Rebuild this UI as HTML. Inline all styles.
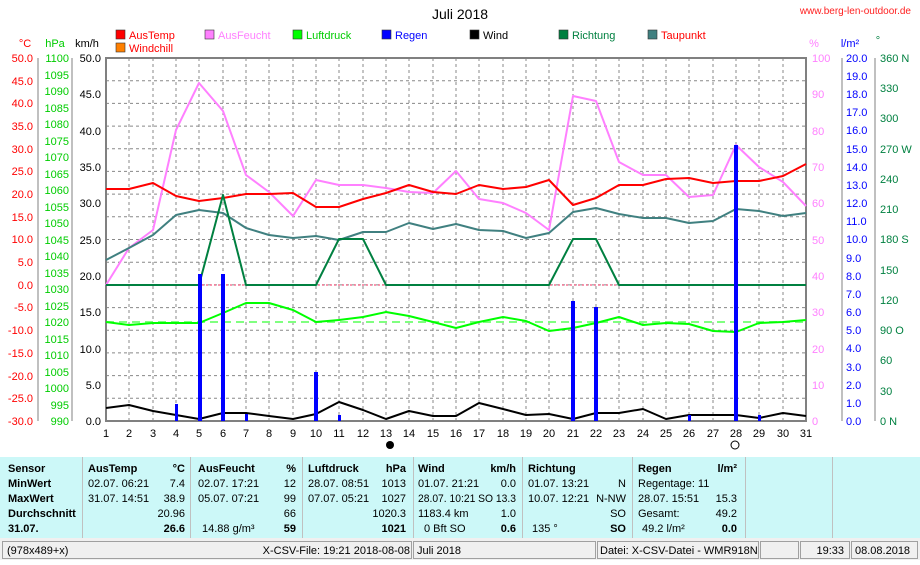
<!DOCTYPE html>
<html><head><meta charset="utf-8"><style>
body{margin:0;width:920px;height:560px;overflow:hidden;background:#fff;font-family:"Liberation Sans",sans-serif}
svg text{font-family:"Liberation Sans",sans-serif;font-size:11px}
</style></head><body>
<svg width="920" height="560" viewBox="0 0 920 560" xmlns="http://www.w3.org/2000/svg">
<rect width="920" height="560" fill="#fff"/>
<text x="460" y="19" text-anchor="middle" style="font-size:14px">Juli 2018</text>
<text x="911" y="14" text-anchor="end" fill="#ff2020" style="font-size:10px">www.berg-len-outdoor.de</text>
<g style="font-size:11px">
<rect x="116" y="30" width="9" height="9" fill="#f00" stroke="#333" stroke-width=".6"/><text x="129" y="39" fill="#f00">AusTemp</text>
<rect x="116" y="43" width="9" height="9" fill="#ff8000" stroke="#333" stroke-width=".6"/><text x="129" y="52" fill="#f00">Windchill</text>
<rect x="205" y="30" width="9" height="9" fill="#ff80ff" stroke="#333" stroke-width=".6"/><text x="218" y="39" fill="#ff80ff">AusFeucht</text>
<rect x="293" y="30" width="9" height="9" fill="#0f0" stroke="#333" stroke-width=".6"/><text x="306" y="39" fill="#0c0">Luftdruck</text>
<rect x="382" y="30" width="9" height="9" fill="#00f" stroke="#333" stroke-width=".6"/><text x="395" y="39" fill="#00f">Regen</text>
<rect x="470" y="30" width="9" height="9" fill="#000" stroke="#333" stroke-width=".6"/><text x="483" y="39" fill="#000">Wind</text>
<rect x="559" y="30" width="9" height="9" fill="#008040" stroke="#333" stroke-width=".6"/><text x="572" y="39" fill="#008040">Richtung</text>
<rect x="648" y="30" width="9" height="9" fill="#408080" stroke="#333" stroke-width=".6"/><text x="661" y="39" fill="#f00">Taupunkt</text>
</g>
<text x="25" y="47" fill="#f00" text-anchor="middle">°C</text>
<text x="55" y="47" fill="#0c0" text-anchor="middle">hPa</text>
<text x="87" y="47" text-anchor="middle">km/h</text>
<text x="814" y="47" fill="#ff80ff" text-anchor="middle">%</text>
<text x="850" y="47" fill="#00f" text-anchor="middle">l/m²</text>
<text x="878" y="44" fill="#008040" text-anchor="middle">°</text>
<g stroke="#888" stroke-width="1" stroke-dasharray="3,3">
<path d="M106 80.7H806M106 103.4H806M106 126.1H806M106 148.8H806M106 171.4H806M106 194.1H806M106 216.8H806M106 239.5H806M106 262.2H806M106 284.9H806M106 307.6H806M106 330.3H806M106 352.9H806M106 375.6H806M106 398.3H806"/>
<path d="M129 58V421M153 58V421M176 58V421M199 58V421M223 58V421M246 58V421M269 58V421M293 58V421M316 58V421M339 58V421M363 58V421M386 58V421M409 58V421M433 58V421M456 58V421M479 58V421M503 58V421M526 58V421M549 58V421M573 58V421M596 58V421M619 58V421M643 58V421M666 58V421M689 58V421M713 58V421M736 58V421M759 58V421M783 58V421"/>
</g>
<rect x="106" y="58" width="700" height="363" fill="none" stroke="#808080" stroke-width="2"/>
<g stroke="#808080"><line x1="38" y1="58" x2="38" y2="421"/><line x1="72" y1="58" x2="72" y2="421"/></g>
<g fill="#f00" text-anchor="end">
<text x="33" y="62">50.0</text><text x="33" y="85">45.0</text><text x="33" y="107">40.0</text><text x="33" y="130">35.0</text><text x="33" y="153">30.0</text><text x="33" y="175">25.0</text><text x="33" y="198">20.0</text><text x="33" y="221">15.0</text><text x="33" y="243">10.0</text><text x="33" y="266">5.0</text><text x="33" y="289">0.0</text><text x="33" y="311">-5.0</text><text x="33" y="334">-10.0</text><text x="33" y="357">-15.0</text><text x="33" y="380">-20.0</text><text x="33" y="402">-25.0</text><text x="33" y="425">-30.0</text>
</g>
<g fill="#0c0" text-anchor="end">
<text x="69" y="62">1100</text><text x="69" y="79">1095</text><text x="69" y="95">1090</text><text x="69" y="112">1085</text><text x="69" y="128">1080</text><text x="69" y="145">1075</text><text x="69" y="161">1070</text><text x="69" y="178">1065</text><text x="69" y="194">1060</text><text x="69" y="211">1055</text><text x="69" y="227">1050</text><text x="69" y="244">1045</text><text x="69" y="260">1040</text><text x="69" y="277">1035</text><text x="69" y="293">1030</text><text x="69" y="310">1025</text><text x="69" y="326">1020</text><text x="69" y="343">1015</text><text x="69" y="359">1010</text><text x="69" y="376">1005</text><text x="69" y="392">1000</text><text x="69" y="409">995</text><text x="69" y="425">990</text>
</g>
<g text-anchor="end">
<text x="101" y="62">50.0</text><text x="101" y="98">45.0</text><text x="101" y="135">40.0</text><text x="101" y="171">35.0</text><text x="101" y="207">30.0</text><text x="101" y="244">25.0</text><text x="101" y="280">20.0</text><text x="101" y="316">15.0</text><text x="101" y="353">10.0</text><text x="101" y="389">5.0</text><text x="101" y="425">0.0</text>
</g>
<g stroke="#808080"><line x1="842" y1="58" x2="842" y2="421"/><line x1="875" y1="58" x2="875" y2="421"/></g>
<g fill="#ff80ff"><text x="812" y="62">100</text><text x="812" y="98">90</text><text x="812" y="135">80</text><text x="812" y="171">70</text><text x="812" y="207">60</text><text x="812" y="244">50</text><text x="812" y="280">40</text><text x="812" y="316">30</text><text x="812" y="353">20</text><text x="812" y="389">10</text><text x="812" y="425">0</text></g>
<g fill="#00f"><text x="846" y="62">20.0</text><text x="846" y="80">19.0</text><text x="846" y="98">18.0</text><text x="846" y="116">17.0</text><text x="846" y="134">16.0</text><text x="846" y="153">15.0</text><text x="846" y="171">14.0</text><text x="846" y="189">13.0</text><text x="846" y="207">12.0</text><text x="846" y="225">11.0</text><text x="846" y="243">10.0</text><text x="846" y="262">9.0</text><text x="846" y="280">8.0</text><text x="846" y="298">7.0</text><text x="846" y="316">6.0</text><text x="846" y="334">5.0</text><text x="846" y="352">4.0</text><text x="846" y="371">3.0</text><text x="846" y="389">2.0</text><text x="846" y="407">1.0</text><text x="846" y="425">0.0</text></g>
<g fill="#008040"><text x="880" y="62">360 N</text><text x="880" y="92">330</text><text x="880" y="122">300</text><text x="880" y="153">270 W</text><text x="880" y="183">240</text><text x="880" y="213">210</text><text x="880" y="243">180 S</text><text x="880" y="274">150</text><text x="880" y="304">120</text><text x="880" y="334">90  O</text><text x="880" y="364">60</text><text x="880" y="395">30</text><text x="880" y="425">0   N</text></g>
<g text-anchor="middle">
<text x="106" y="437">1</text><text x="129" y="437">2</text><text x="153" y="437">3</text><text x="176" y="437">4</text><text x="199" y="437">5</text><text x="223" y="437">6</text><text x="246" y="437">7</text><text x="269" y="437">8</text><text x="293" y="437">9</text><text x="316" y="437">10</text><text x="339" y="437">11</text><text x="363" y="437">12</text><text x="386" y="437">13</text><text x="409" y="437">14</text><text x="433" y="437">15</text><text x="456" y="437">16</text><text x="479" y="437">17</text><text x="503" y="437">18</text><text x="526" y="437">19</text><text x="549" y="437">20</text><text x="573" y="437">21</text><text x="596" y="437">22</text><text x="619" y="437">23</text><text x="643" y="437">24</text><text x="666" y="437">25</text><text x="689" y="437">26</text><text x="713" y="437">27</text><text x="736" y="437">28</text><text x="759" y="437">29</text><text x="783" y="437">30</text><text x="806" y="437">31</text>
</g>
<circle cx="390" cy="445" r="4" fill="#000"/>
<circle cx="735" cy="445" r="4" fill="#fff" stroke="#000"/>
<line x1="106" y1="285" x2="806" y2="285" stroke="#f03060" stroke-dasharray="2,2"/>
<line x1="106" y1="322" x2="806" y2="322" stroke="#80ff80" stroke-width="2" stroke-dasharray="8,5"/>
<g fill="none" stroke-width="2" stroke-linejoin="round">
<polyline stroke="#ff80ff" points="106,285 129,248 153,230 176,130 199,83 223,111 246,175 269,192 293,216 316,180 339,185 363,185 386,188 409,192 433,193 456,171 479,199 503,203 526,213 549,230 573,96 596,101 619,162 643,175 666,175 689,197 713,195 736,145 759,167 783,182 806,206"/>
<polyline stroke="#408080" points="106,260 129,248 153,235 176,215 199,210 223,213 246,228 269,235 293,238 316,236 339,240 363,232 386,232 409,223 433,229 456,224 479,230 503,231 526,238 549,233 573,212 596,208 619,214 643,218 666,218 689,223 713,221 736,209 759,211 783,216 806,213"/>
<polyline stroke="#f00" points="106,189 129,189 153,183 176,196 199,201 223,198 246,194 269,194 293,193 316,207 339,207 363,199 386,193 409,185 433,192 456,194 479,185 503,189 526,187 549,180 573,205 596,198 619,185 643,185 666,179 689,178 713,183 736,181 759,181 783,176 806,164"/>
<polyline stroke="#008040" points="106,285 199,285 223,195 246,285 316,285 339,239 363,239 386,285 549,285 573,239 596,239 619,285 806,285"/>
<polyline stroke="#0f0" points="106,322 129,325 153,323 176,323 199,323 223,313 246,303 269,303 293,310 316,322 339,320 363,317 386,312 409,316 433,322 456,328 479,322 503,317 526,321 549,331 573,328 596,323 619,317 643,325 666,323 689,324 713,331 736,332 759,323 783,322 806,320"/>
<polyline stroke="#000" points="106,408 129,405 153,411 176,415 199,419 223,413 246,413 269,416 293,419 316,414 339,402 363,410 386,419 409,411 433,416 456,416 479,403 503,409 526,415 549,414 573,419 596,413 619,413 643,409 666,419 689,415 713,415 736,415 759,418 783,413 806,416"/>
</g>
<g fill="#00f">
<rect x="175" y="404" width="3" height="17"/><rect x="198" y="274" width="4" height="147"/><rect x="221" y="274" width="4" height="147"/><rect x="245" y="414" width="3" height="7"/><rect x="314" y="372" width="4" height="49"/><rect x="338" y="415" width="3" height="6"/><rect x="571" y="301" width="4" height="120"/><rect x="594" y="307" width="4" height="114"/><rect x="688" y="415" width="3" height="6"/><rect x="734" y="145" width="4" height="276"/><rect x="758" y="415" width="3" height="6"/>
</g>
<rect x="0" y="457" width="920" height="81" fill="#ccf8f8"/>
<g stroke="#c0c0c0"><path d="M82.5 457V538M190.5 457V538M302.5 457V538M413.5 457V538M522.5 457V538M632.5 457V538M745.5 457V538M832.5 457V538"/></g>
<g style="font-size:10.5px">
<g font-weight="bold"><text x="8" y="472">Sensor</text><text x="8" y="487">MinWert</text><text x="8" y="502">MaxWert</text><text x="8" y="517">Durchschnitt</text><text x="8" y="532">31.07.</text>
<text x="88" y="472">AusTemp</text><text x="185" y="472" text-anchor="end">°C</text><text x="198" y="472">AusFeucht</text><text x="296" y="472" text-anchor="end">%</text><text x="308" y="472">Luftdruck</text><text x="406" y="472" text-anchor="end">hPa</text><text x="418" y="472">Wind</text><text x="516" y="472" text-anchor="end">km/h</text><text x="528" y="472">Richtung</text><text x="638" y="472">Regen</text><text x="737" y="472" text-anchor="end">l/m²</text>
<text x="185" y="532" text-anchor="end">26.6</text><text x="296" y="532" text-anchor="end">59</text><text x="406" y="532" text-anchor="end">1021</text><text x="516" y="532" text-anchor="end">0.6</text><text x="626" y="532" text-anchor="end">SO</text><text x="737" y="532" text-anchor="end">0.0</text></g>
<text x="88" y="487">02.07.  06:21</text><text x="185" y="487" text-anchor="end">7.4</text><text x="88" y="502">31.07.  14:51</text><text x="185" y="502" text-anchor="end">38.9</text><text x="185" y="517" text-anchor="end">20.96</text>
<text x="198" y="487">02.07.  17:21</text><text x="296" y="487" text-anchor="end">12</text><text x="198" y="502">05.07.  07:21</text><text x="296" y="502" text-anchor="end">99</text><text x="296" y="517" text-anchor="end">66</text><text x="202" y="532">14.88 g/m³</text>
<text x="308" y="487">28.07.  08:51</text><text x="406" y="487" text-anchor="end">1013</text><text x="308" y="502">07.07.  05:21</text><text x="406" y="502" text-anchor="end">1027</text><text x="406" y="517" text-anchor="end">1020.3</text>
<text x="418" y="487">01.07.  21:21</text><text x="516" y="487" text-anchor="end">0.0</text><text x="418" y="502" textLength="98" lengthAdjust="spacingAndGlyphs">28.07. 10:21 SO 13.3</text><text x="418" y="517">1183.4 km</text><text x="516" y="517" text-anchor="end">1.0</text><text x="424" y="532">0 Bft SO</text>
<text x="528" y="487">01.07.  13:21</text><text x="626" y="487" text-anchor="end">N</text><text x="528" y="502">10.07.  12:21</text><text x="626" y="502" text-anchor="end">N-NW</text><text x="626" y="517" text-anchor="end">SO</text><text x="532" y="532">135 °</text>
<text x="638" y="487">Regentage: 11</text><text x="638" y="502">28.07.  15:51</text><text x="737" y="502" text-anchor="end">15.3</text><text x="638" y="517">Gesamt:</text><text x="737" y="517" text-anchor="end">49.2</text><text x="642" y="532">49.2 l/m²</text>
</g>
<rect x="0" y="538" width="920" height="22" fill="#f0f0f0"/>
<g fill="none" stroke="#a0a0a0"><rect x="2.5" y="541.5" width="409" height="17"/><rect x="413.5" y="541.5" width="182" height="17"/><rect x="597.5" y="541.5" width="161" height="17"/><rect x="760.5" y="541.5" width="38" height="17"/><rect x="800.5" y="541.5" width="49" height="17"/><rect x="851.5" y="541.5" width="66" height="17"/></g>
<g style="font-size:10.5px"><text x="7" y="554">(978x489+x)</text><text x="410" y="554" text-anchor="end">X-CSV-File:  19:21  2018-08-08</text><text x="417" y="554">Juli 2018</text><text x="600" y="554">Datei: X-CSV-Datei - WMR918N</text><text x="844" y="554" text-anchor="end">19:33</text><text x="855" y="554">08.08.2018</text></g>
</svg>
</body></html>
